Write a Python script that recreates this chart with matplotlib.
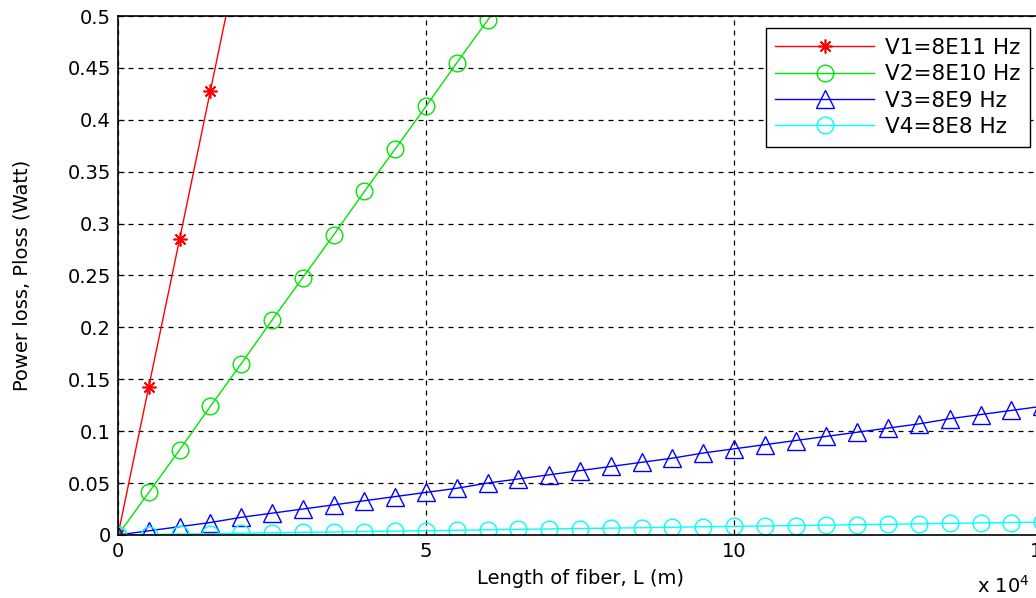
import numpy as np
import matplotlib
matplotlib.use('Agg')
import matplotlib.pyplot as plt

plt.rcParams['font.family'] = ['DejaVu Sans']

## Data (length in units of 1e4 m, loss in W)
L1 = [0, 0.5, 1.0, 1.5, 2.0]
P1 = [0, 0.143, 0.285, 0.428, 0.571]

L2 = [0, 0.5, 1.0, 1.5, 2.0, 2.5, 3.0, 3.5, 4.0, 4.5, 5.0, 5.5, 6.0, 6.5]
P2 = [0, 0.041, 0.082, 0.124, 0.165, 0.207, 0.248, 0.289, 0.331, 0.372,
      0.413, 0.455, 0.496, 0.537]

L34 = [0, 0.5, 1.0, 1.5, 2.0, 2.5, 3.0, 3.5, 4.0, 4.5, 5.0, 5.5, 6.0, 6.5,
       7.0, 7.5, 8.0, 8.5, 9.0, 9.5, 10.0, 10.5, 11.0, 11.5, 12.0, 12.5,
       13.0, 13.5, 14.0, 14.5, 15.0]
P3 = [0, 0.004, 0.008, 0.012, 0.017, 0.021, 0.025, 0.029, 0.033, 0.037,
      0.041, 0.045, 0.050, 0.054, 0.058, 0.062, 0.066, 0.070, 0.074, 0.079,
      0.083, 0.087, 0.091, 0.095, 0.099, 0.103, 0.107, 0.112, 0.116, 0.120,
      0.124]
P4 = [0, 0.0004, 0.0008, 0.0012, 0.0017, 0.0021, 0.0025, 0.0029, 0.0033,
      0.0037, 0.0041, 0.0045, 0.0050, 0.0054, 0.0058, 0.0062, 0.0066, 0.0070,
      0.0074, 0.0079, 0.0083, 0.0087, 0.0091, 0.0095, 0.0099, 0.0103, 0.0107,
      0.0112, 0.0116, 0.0120, 0.0124]

labels = ['V1=8E11 Hz', 'V2=8E10 Hz', 'V3=8E9 Hz', 'V4=8E8 Hz']
x_ticks = [0, 5, 10, 15]
y_ticks = [0, 0.05, 0.1, 0.15, 0.2, 0.25, 0.3, 0.35, 0.4, 0.45, 0.5]
y_tick_labels = ['0', '0.05', '0.1', '0.15', '0.2', '0.25', '0.3', '0.35',
                 '0.4', '0.45', '0.5']

## Figure
fig = plt.figure(figsize=(10.36, 5.98), dpi=100)
ax = fig.add_axes([0.1139, 0.1054, 0.892, 0.8678])

ax.plot(L1, P1, '-', marker=(8, 2, 0), color='red', lw=1, ms=10, mew=1.2,
        label=labels[0])
ax.plot(L2, P2, '-o', color='#00e600', lw=1, ms=12, mfc='none', mew=1,
        label=labels[1])
ax.plot(L34, P3, '-^', color='blue', lw=1, ms=13, mfc='none', mew=1,
        label=labels[2])
ax.plot(L34, P4, '-o', color='cyan', lw=1, ms=12, mfc='none', mew=1,
        label=labels[3])

ax.set_xlim(0, 15)
ax.set_ylim(0, 0.5)
ax.set_xticks(x_ticks)
ax.set_yticks(y_ticks)
ax.set_yticklabels(y_tick_labels)
ax.tick_params(labelsize=14, direction='in', length=4, pad=5)
ax.grid(True, color='black', linestyle=(0, (4, 4)), linewidth=0.9)
for s in ax.spines.values():
    s.set_linewidth(1.2)

ax.set_xlabel('Length of fiber, L (m)', fontsize=14, labelpad=6)
ax.set_ylabel('Power loss, Ploss (Watt)', fontsize=14, labelpad=26)
fig.text(0.943, 0.008, r'x 10$^4$', fontsize=14)

leg = ax.legend(loc='upper right', bbox_to_anchor=(0.987, 0.977),
                borderaxespad=0, fontsize=15.5, fancybox=False, framealpha=1,
                edgecolor='black', borderpad=0.45, handlelength=4.6,
                handletextpad=0.5, labelspacing=0.3)
leg.get_frame().set_linewidth(1.0)

plt.savefig('out.png', dpi=100)
